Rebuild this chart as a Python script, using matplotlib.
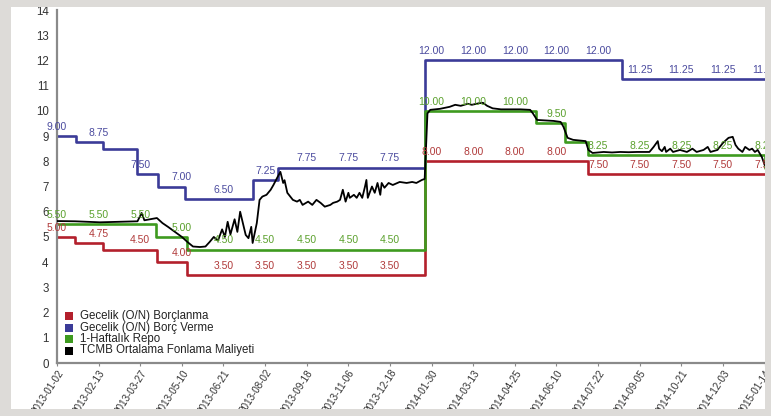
import numpy as np
import matplotlib
matplotlib.use("Agg")
import matplotlib.pyplot as plt
from matplotlib.patches import Rectangle

plt.rcParams["font.family"] = ["Liberation Sans", "DejaVu Sans"]

# x ekseni: işlem günü sırası (her 30 günde bir etiket)
tick_labels = ["2013-01-02", "2013-02-13", "2013-03-27", "2013-05-10", "2013-06-21",
               "2013-08-02", "2013-09-18", "2013-11-06", "2013-12-18", "2014-01-30",
               "2014-03-13", "2014-04-25", "2014-06-10", "2014-07-22", "2014-09-05",
               "2014-10-21", "2014-12-03", "2015-01-14"]
tick_step = 30
last_day = 511

# faiz koridoru - değişim günleri ve oranlar
borclanma_gun = [0, 13, 33, 72, 94, 265, 383]
borclanma_oran = [5.00, 4.75, 4.50, 4.00, 3.50, 8.00, 7.50]

borc_verme_gun = [0, 14, 33, 58, 73, 92, 141, 159, 265, 407]
borc_verme_oran = [9.00, 8.75, 8.50, 7.50, 7.00, 6.50, 7.25, 7.75, 12.00, 11.25]

repo_gun = [0, 71, 94, 265, 345, 366, 383, 510]
repo_oran = [5.50, 5.00, 4.50, 10.00, 9.50, 8.75, 8.25, 7.75]

# TCMB ortalama fonlama maliyeti
fonlama_gun = [0, 13, 31, 45, 58, 61, 63, 72, 76, 80, 85, 90, 94, 98, 103, 107, 110,
               113, 116, 119, 121, 123, 125, 128, 130, 132, 136, 138, 140, 141, 144,
               146, 148, 151, 154, 156, 159, 161, 163, 164, 166, 170, 173, 175, 177,
               181, 184, 187, 190, 193, 197, 199, 202, 204, 206, 208, 210, 211, 214,
               216, 218, 220, 222, 223, 224, 227, 229, 231, 233, 234, 236, 239, 242,
               247, 252, 256, 259, 263, 265, 267, 269, 276, 283, 287, 291, 296, 299,
               304, 307, 310, 314, 320, 334, 341, 343, 346, 358, 363, 365, 368, 372,
               381, 383, 386, 394, 400, 406, 412, 418, 427, 430, 433, 434, 436, 438,
               439, 442, 444, 449, 454, 458, 461, 466, 469, 471, 476, 480, 484, 487,
               489, 491, 494, 496, 499, 501, 503, 505, 508, 510]
fonlama_oran = [5.63, 5.62, 5.58, 5.60, 5.62, 5.95, 5.66, 5.75, 5.55, 5.40, 5.20, 5.00,
                4.80, 4.62, 4.60, 4.62, 4.80, 5.00, 4.85, 5.30, 5.00, 5.60, 5.10, 5.70,
                5.20, 6.00, 5.08, 4.95, 5.40, 4.76, 5.55, 6.47, 6.60, 6.67, 6.87, 7.06,
                7.38, 7.58, 7.14, 7.25, 6.75, 6.47, 6.40, 6.47, 6.27, 6.40, 6.27, 6.47,
                6.35, 6.20, 6.27, 6.35, 6.40, 6.47, 6.87, 6.40, 6.75, 6.55, 6.67, 6.55,
                6.75, 6.55, 7.00, 7.26, 6.55, 7.00, 6.75, 7.14, 6.67, 7.14, 6.95, 7.14,
                7.06, 7.18, 7.14, 7.18, 7.14, 7.26, 7.30, 9.90, 10.04, 10.08, 10.16,
                10.24, 10.20, 10.28, 10.24, 10.30, 10.32, 10.20, 10.10, 10.06, 10.06,
                10.04, 9.90, 9.64, 9.60, 9.56, 9.37, 8.93, 8.85, 8.80, 8.45, 8.33, 8.37,
                8.35, 8.37, 8.36, 8.37, 8.37, 8.57, 8.80, 8.50, 8.40, 8.57, 8.37, 8.50,
                8.37, 8.45, 8.37, 8.50, 8.37, 8.45, 8.57, 8.37, 8.45, 8.73, 8.93, 8.97,
                8.65, 8.50, 8.37, 8.57, 8.45, 8.50, 8.37, 8.45, 8.17, 7.86]

seriler = [
    ("Gecelik (O/N) Borçlanma", borclanma_gun, borclanma_oran, "#b3202c", "#b03a3a"),
    ("Gecelik (O/N) Borç Verme", borc_verme_gun, borc_verme_oran, "#3b3b98", "#4a4a9e"),
    ("1-Haftalık Repo", repo_gun, repo_oran, "#3e9a1f", "#5aa02c"),
]

W, H = 771, 416
fig = plt.figure(figsize=(W / 100, H / 100), dpi=100, facecolor="white")
ax = fig.add_axes([57 / W, 1 - 363 / H, 709 / W, 353 / H])

ticks = np.arange(len(tick_labels)) * tick_step

for ad, gun, oran, renk, yazi_renk in seriler:
    x = list(gun) + [last_day]
    y = list(oran) + [oran[-1]]
    ax.step(x, y, where="post", color=renk, lw=1.9, zorder=2)
    # her etiket gününde o anki oranı yaz
    for t in ticks:
        i = max(np.searchsorted(gun, t - 0.5, side="right") - 1, 0)
        ax.annotate(f"{oran[i]:.2f}", (t, oran[i]), xytext=(0, 3),
                    textcoords="offset points", ha="center", va="bottom",
                    fontsize=7.5, color=yazi_renk, zorder=4)

ax.plot(fonlama_gun, fonlama_oran, color="black", lw=1.3, zorder=3)

ax.set_xlim(0, last_day)
ax.set_ylim(0, 14)
ax.set_yticks(range(0, 15))
ax.set_xticks(ticks)
ax.set_xticklabels(tick_labels, rotation=57, ha="right", rotation_mode="anchor")
ax.tick_params(axis="y", length=0, pad=6, labelsize=8.3, labelcolor="#333333")
ax.tick_params(axis="x", length=2, color="#888888", pad=1.5, labelsize=7.1,
               labelcolor="#333333")

for s in ["top", "right"]:
    ax.spines[s].set_visible(False)
for s in ["left", "bottom"]:
    ax.spines[s].set_color("#8a8a8a")
    ax.spines[s].set_linewidth(1.6)

# lejant: renkli kareler ve açıklamalar
lejant = [(s[0], s[3]) for s in seriler] + [("TCMB Ortalama Fonlama Maliyeti", "black")]
for k, (ad, renk) in enumerate(lejant):
    yc = (363 - (316 + k * 11.5)) / 353
    ax.add_patch(Rectangle((8 / 709, yc - 4 / 353), 8 / 709, 8 / 353,
                           transform=ax.transAxes, facecolor=renk, edgecolor="none",
                           zorder=5))
    ax.text(23 / 709, yc, ad, transform=ax.transAxes, fontsize=8.3, color="#222222",
            va="center", ha="left", zorder=5)

# dış gri çerçeve
gri = "#dddbd8"
for x0, y0, w, h in [(0, 0, 11, H), (0, H - 7, W, 7), (W - 6, 0, 6, H), (0, 0, W, 7)]:
    fig.add_artist(Rectangle((x0 / W, y0 / H), w / W, h / H, transform=fig.transFigure,
                             facecolor=gri, edgecolor="none", zorder=10))

fig.savefig("out.png", dpi=100, facecolor=fig.get_facecolor())
